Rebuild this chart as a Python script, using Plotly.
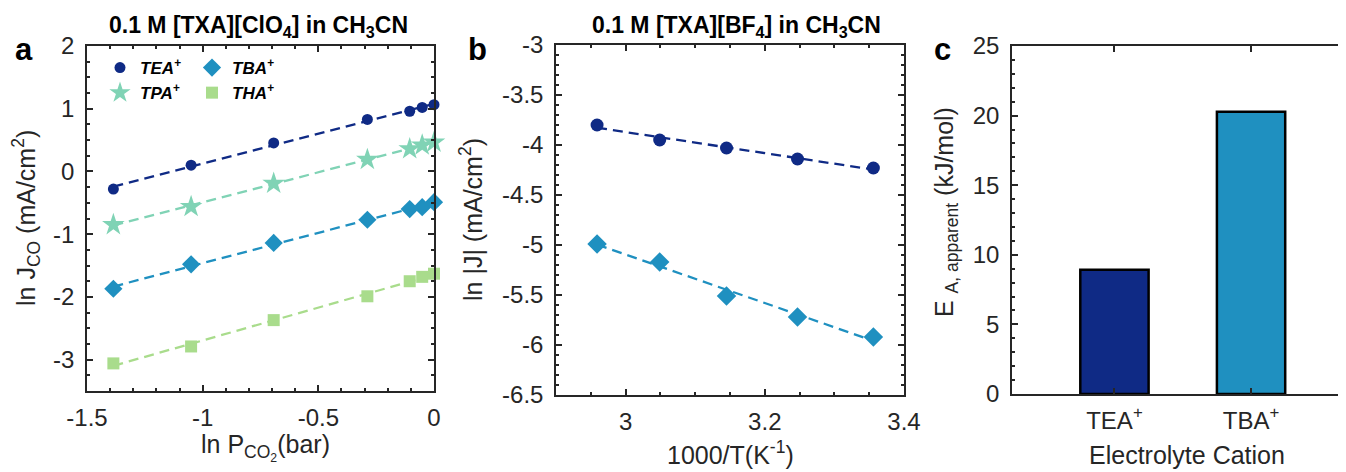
import numpy as np
import plotly.graph_objects as go

# panel a: ln J_CO vs ln P_CO2 in 0.1 M [TXA][ClO4]
ln_p = [-1.386, -1.050, -0.693, -0.288, -0.105, -0.051, 0.0]
tea_a = [-0.28, 0.10, 0.455, 0.83, 0.96, 1.02, 1.065]
tpa_a = [-0.85, -0.56, -0.19, 0.19, 0.36, 0.42, 0.465]
tba_a = [-1.87, -1.48, -1.14, -0.77, -0.60, -0.57, -0.49]
tha_a = [-3.06, -2.79, -2.37, -1.99, -1.75, -1.68, -1.63]
xticks_a = [-1.5, -1.0, -0.5, 0.0]
xlabels_a = ["-1.5", "-1", "-0.5", "0"]
yticks_a = [-3, -2, -1, 0, 1, 2]
ylabels_a = ["-3", "-2", "-1", "0", "1", "2"]

# panel b: ln |J| vs 1000/T in 0.1 M [TXA][BF4]
inv_t = [2.959, 3.049, 3.145, 3.247, 3.356]
tea_b = [-3.80, -3.95, -4.03, -4.14, -4.23]
tba_b = [-4.99, -5.17, -5.51, -5.72, -5.92]
yticks_b = [-6.5, -6.0, -5.5, -5.0, -4.5, -4.0, -3.5, -3.0]
ylabels_b = ["-6.5", "-6", "-5.5", "-5", "-4.5", "-4", "-3.5", "-3"]

# panel c: apparent activation energy
cations = ["TEA<sup>+</sup>", "TBA<sup>+</sup>"]
e_app = [8.92, 20.27]

NAVY = "#0f2a85"
MINT = "#80d3b5"
BLUE = "#1f90c0"
LGREEN = "#a9dc8c"
AXC = "#262626"
FONT = "Liberation Sans, Arial, sans-serif"
DASH = "10px,6px"

# the page body keeps its 8px margin, so the figure is shifted by that much
W, H, OFF = 1346, 472, 8
FW, FH = W - OFF, H - OFF


def px_x(p):
    return (p - OFF) / FW


def px_y(p):
    return 1 - (p - OFF) / FH


fig = go.Figure()


def fit_line(x, y):
    k, b = np.polyfit(x, y, 1)
    xs = [min(x), max(x)]
    return xs, [k * v + b for v in xs]


series_a = [
    ("TEA<sup>+</sup>", tea_a, NAVY, "circle", 11, "legend"),
    ("TPA<sup>+</sup>", tpa_a, MINT, "star", 17, "legend"),
    ("TBA<sup>+</sup>", tba_a, BLUE, "diamond", 14, "legend2"),
    ("THA<sup>+</sup>", tha_a, LGREEN, "square", 12, "legend2"),
]
for name, ys, col, sym, size, leg in series_a:
    fx, fy = fit_line(ln_p, ys)
    fig.add_trace(go.Scatter(x=fx, y=fy, mode="lines", line=dict(color=col, width=2.3, dash=DASH),
                             showlegend=False, xaxis="x", yaxis="y", hoverinfo="skip"))
    fig.add_trace(go.Scatter(x=ln_p, y=ys, mode="markers", name=name, legend=leg,
                             marker=dict(color=col, symbol=sym, size=size, line=dict(width=0)),
                             cliponaxis=False, xaxis="x", yaxis="y"))

for ys, col, sym, size in [(tea_b, NAVY, "circle", 13), (tba_b, BLUE, "diamond", 15)]:
    fx, fy = fit_line(inv_t, ys)
    fig.add_trace(go.Scatter(x=fx, y=fy, mode="lines", line=dict(color=col, width=2.3, dash=DASH),
                             showlegend=False, xaxis="x2", yaxis="y2"))
    fig.add_trace(go.Scatter(x=inv_t, y=ys, mode="markers", showlegend=False,
                             marker=dict(color=col, symbol=sym, size=size), cliponaxis=False,
                             xaxis="x2", yaxis="y2"))

fig.add_trace(go.Bar(x=cations, y=e_app, width=0.5, marker=dict(color=[NAVY, BLUE], line=dict(color="black", width=2.5)),
                     showlegend=False, xaxis="x3", yaxis="y3"))

tickfont = dict(family=FONT, size=24, color=AXC)
titlefont = dict(family=FONT, size=25, color=AXC)
common = dict(showline=True, linecolor=AXC, linewidth=1.5, ticks="inside", ticklen=6, tickwidth=1.5,
              tickcolor=AXC, showgrid=False, zeroline=False, tickfont=tickfont, automargin=False)
xcommon = dict(ticklabelstandoff=4, **common)
ycommon = dict(ticklabelstandoff=6, **common)

fig.update_layout(
    width=FW, height=FH, margin=dict(l=0, r=0, t=0, b=0, autoexpand=False),
    paper_bgcolor="white", plot_bgcolor="white", font=dict(family=FONT, color=AXC),
    xaxis=dict(domain=[px_x(87), px_x(434)], range=[-1.5, 0], tickvals=xticks_a, ticktext=xlabels_a,
               mirror="allticks", minor=dict(dtick=0.1, ticks="inside", ticklen=3, tickcolor=AXC),
               anchor="y", **xcommon),
    yaxis=dict(domain=[px_y(391), px_y(46)], range=[-3.5, 2], tickvals=yticks_a, ticktext=ylabels_a,
               mirror="allticks", minor=dict(dtick=0.25, ticks="inside", ticklen=3, tickcolor=AXC),
               anchor="x", **ycommon),
    xaxis2=dict(domain=[px_x(556), px_x(904)], range=[2.9, 3.4], dtick=0.2,
                mirror="allticks", minor=dict(dtick=0.05, ticks="inside", ticklen=3, tickcolor=AXC),
                anchor="y2", **xcommon),
    yaxis2=dict(domain=[px_y(395), px_y(45)], range=[-6.5, -3], tickvals=yticks_b, ticktext=ylabels_b,
                mirror="allticks", minor=dict(dtick=0.1, ticks="inside", ticklen=3, tickcolor=AXC),
                anchor="x2", **ycommon),
    xaxis3=dict(domain=[px_x(1012), 1.0], range=[-0.75, 1.695], mirror="ticks",
                anchor="y3", **xcommon),
    yaxis3=dict(domain=[px_y(394), px_y(46)], range=[0, 25], dtick=5, mirror=False,
                minor=dict(dtick=1, ticks="inside", ticklen=3, tickcolor=AXC),
                anchor="x3", **ycommon),
    legend=dict(x=px_x(100), y=px_y(50), xanchor="left", yanchor="top", bgcolor="rgba(0,0,0,0)",
                font=dict(family=FONT, size=17, color="black", weight="bold", style="italic"),
                itemwidth=30, tracegroupgap=0),
    legend2=dict(x=px_x(192), y=px_y(50), xanchor="left", yanchor="top", bgcolor="rgba(0,0,0,0)",
                 font=dict(family=FONT, size=17, color="black", weight="bold", style="italic"),
                 itemwidth=30, tracegroupgap=0),
)

# axis titles, placed in page pixels: (text, centre x, centre y, angle)
axis_titles = [
    ("ln J<sub>CO</sub> (mA/cm<sup>2</sup>)", 26, 218, -90),
    ("ln P<sub>CO<sub>2</sub></sub>(bar)", 265, 447, 0),
    ("ln |J| (mA/cm<sup>2</sup>)", 471, 220, -90),
    ("1000/T(K<sup>-1</sup>)", 730, 453, 0),
    ("E <sub>A, apparent</sub> (kJ/mol)", 946, 212, -90),
    ("Electrolyte Cation", 1187, 455, 0),
]
for text, cx, cy, ang in axis_titles:
    fig.add_annotation(text=text, x=px_x(cx), y=px_y(cy), xref="paper", yref="paper", showarrow=False,
                       xanchor="center", yanchor="middle", textangle=ang, font=titlefont)

panel_titles = [
    ("0.1 M [TXA][ClO<sub>4</sub>] in CH<sub>3</sub>CN", 258),
    ("0.1 M [TXA][BF<sub>4</sub>] in CH<sub>3</sub>CN", 736),
]
for text, cx in panel_titles:
    fig.add_annotation(text=text, x=px_x(cx), y=px_y(27), xref="paper", yref="paper", showarrow=False,
                       xanchor="center", yanchor="middle",
                       font=dict(family=FONT, size=23, color="black", weight="bold"))

for lab, cx in [("a", 24), ("b", 477), ("c", 942)]:
    fig.add_annotation(text=lab, x=px_x(cx), y=px_y(49), xref="paper", yref="paper", showarrow=False,
                       xanchor="center", yanchor="middle",
                       font=dict(family=FONT, size=31, color="black", weight="bold"))

fig.write_html("out.html")
